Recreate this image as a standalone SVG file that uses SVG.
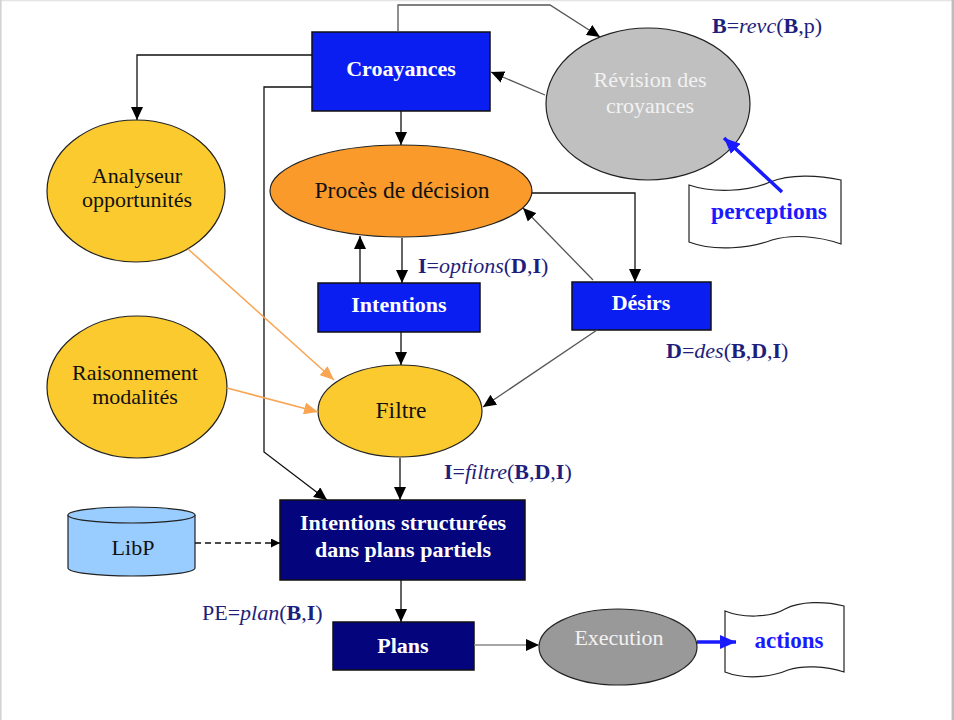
<svg xmlns="http://www.w3.org/2000/svg" width="954" height="720" viewBox="0 0 954 720">
<style>
text{font-family:"Liberation Serif","Times New Roman",serif;font-size:22px}
.w{fill:#ffffff;text-anchor:middle;font-weight:bold}
.k{fill:#111111;text-anchor:middle}
.kl{font-size:23.5px}
.lg{fill:#f2f2f2;text-anchor:middle}
.lab{fill:#1e1e7c}
.b{font-weight:bold}
.i{font-style:italic}
.bl{fill:#1a1aff;font-weight:bold;text-anchor:middle;font-size:23.5px}
.box{fill:#0b1ef2;stroke:#111;stroke-width:1.5}
.navy{fill:#04047c;stroke:#111;stroke-width:1.5}
.ell{stroke:#222;stroke-width:1.2}
.c{fill:none;stroke:#111;stroke-width:1.3}
.cg{fill:none;stroke:#555;stroke-width:1.3}
.co{fill:none;stroke:#f9a552;stroke-width:1.5}
.cb{fill:none;stroke:#1a1aff;stroke-width:3.5}
.tape{fill:#ffffff;stroke:#222;stroke-width:1.2}
</style>
<defs>
<marker id="ah" viewBox="0 0 13 12" refX="13" refY="6" markerWidth="13" markerHeight="12" orient="auto" markerUnits="userSpaceOnUse"><path d="M0,0 L13,6 L0,12 z" fill="#000"/></marker>
<marker id="ao" viewBox="0 0 14 12" refX="14" refY="6" markerWidth="14" markerHeight="12" orient="auto" markerUnits="userSpaceOnUse"><path d="M0,0 L14,6 L0,12 z" fill="#f9a552"/></marker>
<marker id="ab" viewBox="0 0 16 14" refX="16" refY="7" markerWidth="16" markerHeight="14" orient="auto" markerUnits="userSpaceOnUse"><path d="M0,0 L16,7 L0,14 z" fill="#1a1aff"/></marker>
<marker id="as" viewBox="0 0 9 9" refX="9" refY="4.5" markerWidth="9" markerHeight="9" orient="auto" markerUnits="userSpaceOnUse"><path d="M0,0 L9,4.5 L0,9 z" fill="#000"/></marker>
</defs>
<rect x="0" y="0" width="954" height="720" fill="#ffffff"/>
<line x1="0" y1="0.5" x2="954" y2="0.5" stroke="#e4e4e4" stroke-width="1.5"/>
<line x1="0.8" y1="0" x2="0.8" y2="720" stroke="#d0d0d0" stroke-width="1.5"/>
<line x1="952.8" y1="0" x2="952.8" y2="720" stroke="#bdbdbd" stroke-width="2.5"/>

<g id="croyances">
<rect class="box" x="312" y="32" width="178" height="79"/>
<text class="w" x="401" y="76">Croayances</text>
</g>
<g id="revision">
<ellipse class="ell" cx="648" cy="104" rx="102" ry="76" fill="#c0c0c0"/>
<text class="lg" x="650" y="87">Révision des</text>
<text class="lg" x="650" y="113">croyances</text>
</g>
<g id="label-revc"><text class="lab" x="712" y="33"><tspan class="b">B</tspan>=<tspan class="i">revc</tspan>(<tspan class="b">B</tspan>,p)</text></g>
<g id="perceptions">
<path class="tape" d="M689,185 C712,193 748,192 770,182 C790,174 818,175 841,180 L841,244 C818,236 792,234 772,240 C750,248 715,252 689,242 Z"/>
<text class="bl" x="769" y="219">perceptions</text>
</g>
<g id="analyseur">
<ellipse class="ell" cx="136" cy="191" rx="89" ry="71" fill="#fbca2e"/>
<text class="k" x="137" y="183">Analyseur</text>
<text class="k" x="137" y="207">opportunités</text>
</g>
<g id="raisonnement">
<ellipse class="ell" cx="137" cy="387" rx="90" ry="71" fill="#fbca2e"/>
<text class="k" x="135" y="380">Raisonnement</text>
<text class="k" x="135" y="404">modalités</text>
</g>
<g id="proces">
<ellipse class="ell" cx="401" cy="191" rx="131" ry="46" fill="#f99a2a"/>
<text class="k kl" x="402" y="198">Procès de décision</text>
</g>
<g id="intentions">
<rect class="box" x="318" y="283" width="162" height="49"/>
<text class="w" x="399" y="312">Intentions</text>
</g>
<g id="label-options"><text class="lab" x="418" y="273"><tspan class="b">I</tspan>=<tspan class="i">options</tspan>(<tspan class="b">D</tspan>,<tspan class="b">I</tspan>)</text></g>
<g id="desirs">
<rect class="box" x="572" y="282" width="139" height="48"/>
<text class="w" x="641" y="310">Désirs</text>
</g>
<g id="label-des"><text class="lab" x="666" y="358"><tspan class="b">D</tspan>=<tspan class="i">des</tspan>(<tspan class="b">B</tspan>,<tspan class="b">D</tspan>,<tspan class="b">I</tspan>)</text></g>
<g id="filtre">
<ellipse class="ell" cx="400" cy="411" rx="82" ry="46" fill="#fbca2e"/>
<text class="k kl" x="401" y="418">Filtre</text>
</g>
<g id="label-filtre"><text class="lab" x="444" y="479"><tspan class="b">I</tspan>=<tspan class="i">filtre</tspan>(<tspan class="b">B</tspan>,<tspan class="b">D</tspan>,<tspan class="b">I</tspan>)</text></g>
<g id="intentions-structurees">
<rect class="navy" x="280" y="500" width="245" height="80"/>
<text class="w" x="403" y="530">Intentions structurées</text>
<text class="w" x="403" y="557">dans plans partiels</text>
</g>
<g id="libp">
<path d="M68,515 L68,568 A63.5,8 0 0 0 195,568 L195,515" fill="#99ccff" stroke="#222" stroke-width="1.2"/>
<ellipse cx="131.5" cy="515" rx="63.5" ry="8" fill="#99ccff" stroke="#222" stroke-width="1.2"/>
<text class="k" x="133" y="555">LibP</text>
</g>
<g id="label-plan"><text class="lab" x="202" y="620">PE=<tspan class="i">plan</tspan>(<tspan class="b">B</tspan>,<tspan class="b">I</tspan>)</text></g>
<g id="plans">
<rect class="navy" x="333" y="622" width="141" height="48"/>
<text class="w" x="403" y="653">Plans</text>
</g>
<g id="execution">
<ellipse class="ell" cx="618" cy="647" rx="79" ry="38" fill="#999999"/>
<text class="lg" x="619" y="645">Execution</text>
</g>
<g id="actions">
<path class="tape" d="M725,611 C742,618 770,618 785,609 C800,601 825,601 844,606 L844,672 C825,666 803,665 788,670 C772,677 745,680 725,672 Z"/>
<text class="bl" x="789" y="648" style="font-size:23px">actions</text>
</g>

<g id="connectors">
<path class="cg" d="M398,32 L398,5 L550,5 L600,37" marker-end="url(#ah)"/>
<path class="cg" d="M545,95 L491,72" marker-end="url(#ah)"/>
<path class="cb" d="M782,192 L724,138" marker-end="url(#ab)"/>
<path class="c" d="M312,55 L137,55 L137,120" marker-end="url(#ah)"/>
<path class="c" d="M312,87 L264,87 L264,452 L327,500" marker-end="url(#ah)"/>
<path class="c" d="M401,111 L401,145" marker-end="url(#ah)"/>
<path class="c" d="M402,238 L402,283" marker-end="url(#ah)"/>
<path class="c" d="M360,283 L360,236" marker-end="url(#ah)"/>
<path class="c" d="M532,193 L635,193 L635,282" marker-end="url(#ah)"/>
<path class="cg" d="M593,280 L523,208" marker-end="url(#ah)"/>
<path class="cg" d="M597,330 L483,407" marker-end="url(#ah)"/>
<path class="c" d="M401,332 L401,365" marker-end="url(#ah)"/>
<path class="co" d="M188,249 L334,380" marker-end="url(#ao)"/>
<path class="co" d="M227,388 L318,412" marker-end="url(#ao)"/>
<path class="c" d="M400,458 L400,500" marker-end="url(#ah)"/>
<path class="c" d="M195,543 L280,543" stroke-dasharray="6,4" marker-end="url(#as)"/>
<path class="c" d="M401,580 L401,622" marker-end="url(#ah)"/>
<path fill="none" stroke="#888" stroke-width="1.5" d="M474,645 L539,645" marker-end="url(#ah)"/>
<path class="cb" d="M697,642 L736,642" marker-end="url(#ab)"/>
</g>
</svg>
